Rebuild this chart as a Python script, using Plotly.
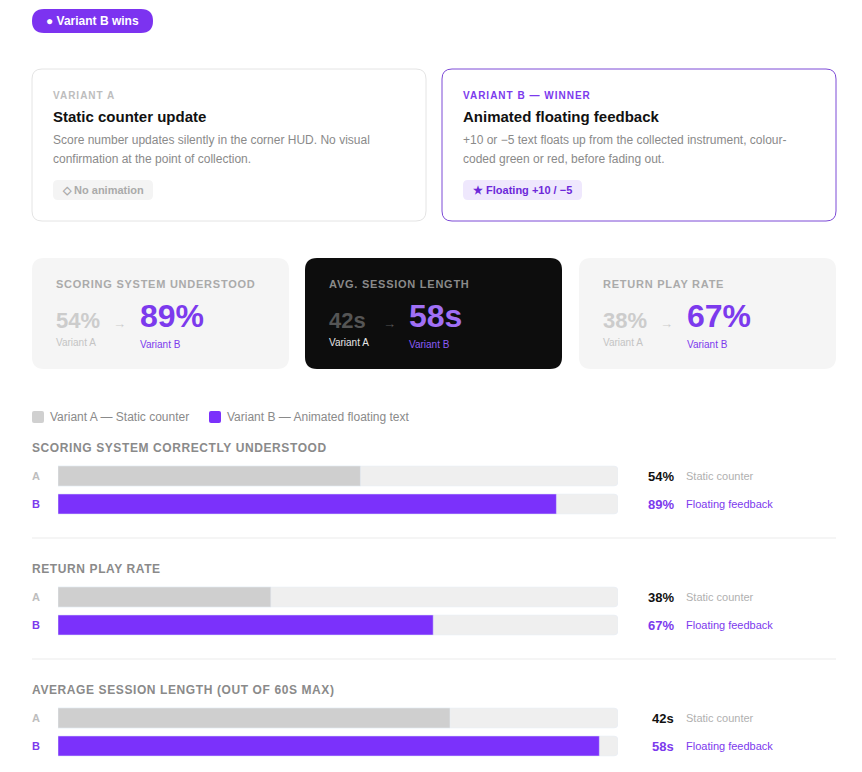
import plotly.graph_objects as go

# ---------------- data ----------------
metrics = ["SCORING SYSTEM CORRECTLY UNDERSTOOD", "RETURN PLAY RATE",
           "AVERAGE SESSION LENGTH (OUT OF 60S MAX)"]
variant_a = [54, 38, 42]
variant_b = [89, 67, 58]
units = ["%", "%", "s"]
scale_max = [100, 100, 60]
variant_labels = ["A", "B"]
variant_notes = ["Static counter", "Floating feedback"]
legend_names = ["Variant A — Static counter", "Variant B — Animated floating text"]

stat_titles = ["SCORING SYSTEM UNDERSTOOD", "AVG. SESSION LENGTH", "RETURN PLAY RATE"]
stat_index = [0, 2, 1]  # which metric each stat card shows

W, H = 862, 772
FONT = "Liberation Sans, Arial, Helvetica, sans-serif"
PURPLE_BAR = "#7b31fb"
PURPLE_TXT = "#7c3aed"
GREY_BAR = "#cfcfcf"
TRACK = "#efefef"

fig = go.Figure()
shapes = []
ann = []


def rrect(x0, y0, x1, y1, r):
    return (f"M{x0+r},{y0} L{x1-r},{y0} Q{x1},{y0} {x1},{y0+r} L{x1},{y1-r} "
            f"Q{x1},{y1} {x1-r},{y1} L{x0+r},{y1} Q{x0},{y1} {x0},{y1-r} "
            f"L{x0},{y0+r} Q{x0},{y0} {x0+r},{y0} Z")


def box(x0, y0, x1, y1, r, fill, line=None, lw=1):
    shapes.append(dict(type="path", path=rrect(x0, y0, x1, y1, r), xref="x", yref="y",
                       fillcolor=fill, line=dict(color=line or fill, width=lw if line else 0),
                       layer="below"))


def text(x, y, s, size=12, color="#111", bold=False, xanchor="left", ls=None):
    t = f"<b>{s}</b>" if bold else s
    if ls:
        t = f"<span style='letter-spacing:{ls}px'>{t}</span>"
    ann.append(dict(x=x, y=y, xref="x", yref="y", text=t, showarrow=False,
                    xanchor=xanchor, yanchor="middle", borderpad=0, borderwidth=0,
                    font=dict(family=FONT, size=size, color=color)))


# background pixel axis
fig.add_trace(go.Scatter(x=[0, W], y=[0, H], mode="markers", marker=dict(opacity=0),
                         hoverinfo="skip", showlegend=False, xaxis="x", yaxis="y"))

# ---- badge
box(32, 9, 153, 33, 12, "#7c33f0")
text(46, 21, "● Variant B wins", 12, "white", True)

# ---- variant cards
box(32, 69, 426, 221, 10, "white", "#e4e4e4")
text(53, 95, "VARIANT A", 10, "#bdbdbd", True, ls=1)
text(53, 116, "Static counter update", 15, "#111", True)
text(53, 140, "Score number updates silently in the corner HUD. No visual", 12, "#8a8a8a")
text(53, 159, "confirmation at the point of collection.", 12, "#8a8a8a")
box(53, 180, 153, 200, 5, "#f4f4f4")
text(62, 190, "◇ No animation", 11, "#aaaaaa", True)

box(442, 69, 836, 221, 10, "white", "#7c4ad6")
text(463, 95, "VARIANT B — WINNER", 10, PURPLE_TXT, True, ls=1)
text(463, 116, "Animated floating feedback", 15, "#111", True)
text(463, 140, "+10 or −5 text floats up from the collected instrument, colour-", 12, "#8a8a8a")
text(463, 159, "coded green or red, before fading out.", 12, "#8a8a8a")
box(463, 180, 582, 200, 5, "#efe8fd")
text(473, 190, "★ Floating +10 / −5", 11, "#6d28d9", True)

# ---- stat cards
card_x = [32, 305, 579]
card_style = [
    dict(bg="#f5f5f5", title="#aaaaaa", a="#cccccc", arrow="#cccccc", b=PURPLE_TXT,
         la="#c4c4c4", lb=PURPLE_TXT, arrow_dx=81, b_dx=108),
    dict(bg="#0d0d0d", title="#8a8a8a", a="#555555", arrow="#555555", b="#a070f5",
         la="#e6e6e6", lb="#8b5cf6", arrow_dx=78, b_dx=104),
    dict(bg="#f5f5f5", title="#aaaaaa", a="#cccccc", arrow="#cccccc", b=PURPLE_TXT,
         la="#c4c4c4", lb=PURPLE_TXT, arrow_dx=81, b_dx=108),
]
for cx, title, mi, st in zip(card_x, stat_titles, stat_index, card_style):
    box(cx, 258, cx + 257, 369, 12, st["bg"])
    text(cx + 24, 284, title, 11, st["title"], True, ls=0.75)
    text(cx + 24, 320, f"{variant_a[mi]}{units[mi]}", 22, st["a"], True)
    text(cx + st["arrow_dx"], 323, "→", 13, st["arrow"])
    text(cx + st["b_dx"], 316, f"{variant_b[mi]}{units[mi]}", 32, st["b"], True)
    text(cx + 24, 342, "Variant A", 10, st["la"])
    text(cx + st["b_dx"], 344, "Variant B", 10, st["lb"])

# ---- legend
box(32, 411, 44, 423, 2, "#d0d0d0")
text(50, 417, legend_names[0], 12, "#8a8a8a")
box(209, 411, 221, 423, 2, PURPLE_BAR)
text(227, 417, legend_names[1], 12, "#8a8a8a")

# ---- bar sections
title_y = [448, 569, 690]
center_a = [476, 597, 718]
dividers = [538, 659]
layout_axes = {}
for i, m in enumerate(metrics):
    ax = i + 2
    xa, ya = f"x{ax}", f"y{ax}"
    text(32, title_y[i], m, 12, "#8a8a8a", True, ls=0.6)
    top = center_a[i] - 14
    bot = center_a[i] + 28 + 14
    fig.add_trace(go.Bar(y=variant_labels, x=[scale_max[i]] * 2, orientation="h",
                         marker=dict(color=TRACK), width=20 / 28, hoverinfo="skip",
                         showlegend=False, xaxis=xa, yaxis=ya))
    fig.add_trace(go.Bar(y=variant_labels, x=[variant_a[i], variant_b[i]], orientation="h",
                         marker=dict(color=[GREY_BAR, PURPLE_BAR]), width=20 / 28,
                         hoverinfo="skip", showlegend=False, xaxis=xa, yaxis=ya))
    layout_axes[f"xaxis{ax}"] = dict(domain=[58 / W, 618 / W], range=[0, scale_max[i]],
                                     visible=False, fixedrange=True, anchor=ya)
    layout_axes[f"yaxis{ax}"] = dict(domain=[1 - bot / H, 1 - top / H], range=[-0.5, 1.5],
                                     type="category", categoryorder="array",
                                     categoryarray=variant_labels[::-1],
                                     visible=False, fixedrange=True, anchor=xa)
    for j, (lab, val) in enumerate(zip(variant_labels, [variant_a[i], variant_b[i]])):
        yy = center_a[i] + 28 * j
        text(32, yy, lab, 11, "#bdbdbd" if j == 0 else PURPLE_TXT, True)
        text(674, yy, f"{val}{units[i]}", 13, "#111" if j == 0 else PURPLE_TXT, True, xanchor="right")
        text(686, yy, variant_notes[j], 11, "#b0b0b0" if j == 0 else PURPLE_TXT)
for d in dividers:
    shapes.append(dict(type="line", x0=32, x1=836, y0=d, y1=d, xref="x", yref="y",
                       line=dict(color="#ebebeb", width=1), layer="below"))

fig.update_layout(
    width=W, height=H, margin=dict(l=0, r=0, t=0, b=0),
    paper_bgcolor="white", plot_bgcolor="rgba(0,0,0,0)",
    barmode="overlay", barcornerradius=4,
    xaxis=dict(domain=[0, 1], range=[0, W], visible=False, fixedrange=True),
    yaxis=dict(domain=[0, 1], range=[H, 0], visible=False, fixedrange=True),
    shapes=shapes, annotations=ann, showlegend=False,
    **layout_axes,
)
fig.write_html("out.html", config={"displayModeBar": False})
